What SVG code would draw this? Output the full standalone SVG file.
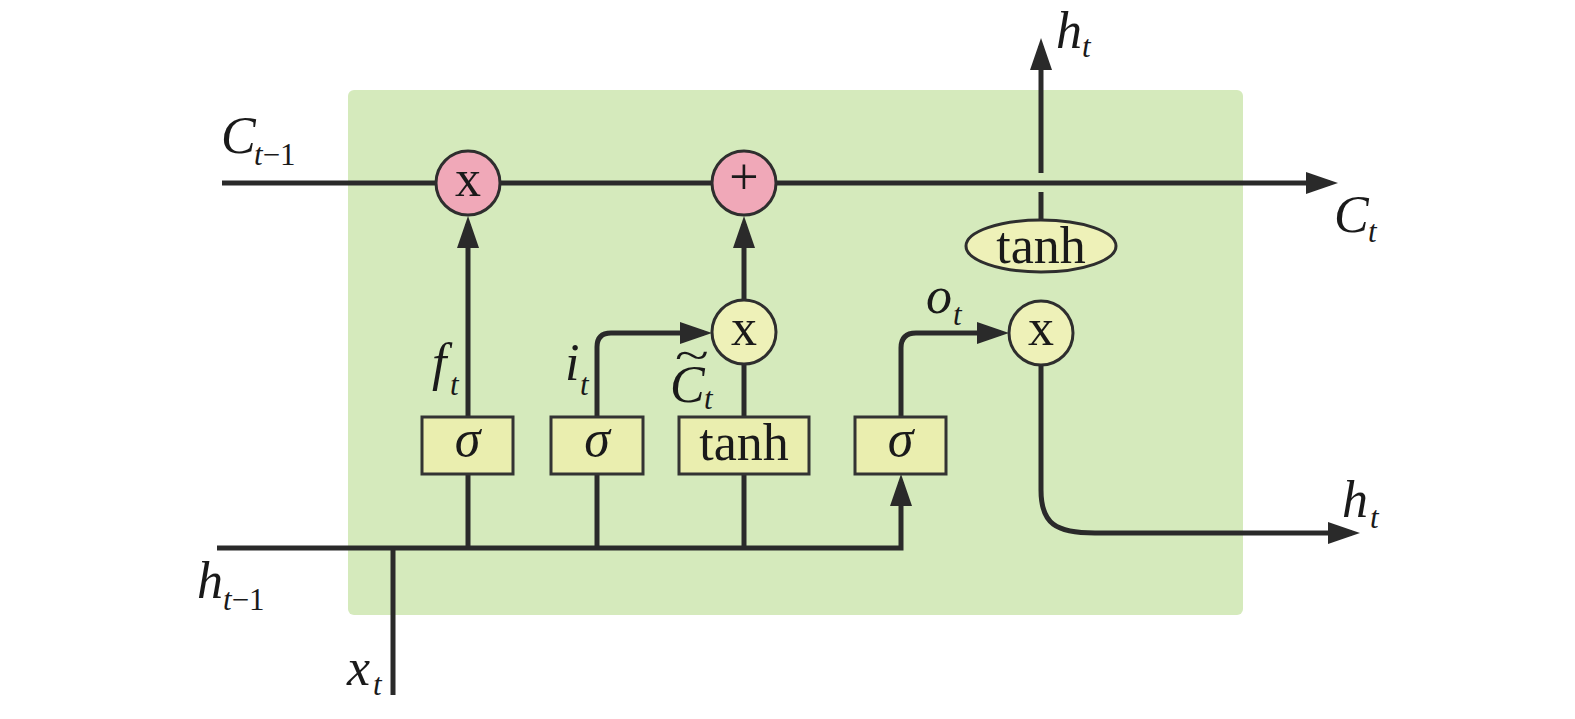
<svg xmlns="http://www.w3.org/2000/svg" width="1575" height="719" viewBox="0 0 1575 719">
<style>
.ln{fill:none;stroke:#2a2a2a;stroke-width:5}
.arr{marker-end:url(#ah)}
.pink{fill:#f0a8b8;stroke:#2e2e2e;stroke-width:3}
.yel{fill:#eef1b8;stroke:#2e2e2e;stroke-width:3}
.box{fill:#eaeeaf;stroke:#333;stroke-width:3}
.t{font-family:"Liberation Serif","Times New Roman",serif;fill:#1a1a1a}
.it{font-style:italic}
.op{font-size:52px;text-anchor:middle}
.lab{font-size:52px}
.sub{font-size:31px}
</style>
<defs>
<marker id="ah" markerUnits="userSpaceOnUse" markerWidth="32" markerHeight="22" viewBox="0 0 32 22" refX="24" refY="11" orient="auto">
<path d="M0,0 L32,11 L0,22 Z" fill="#2a2a2a"/>
</marker>
</defs>
<rect id="cell" x="348" y="90" width="895" height="525" rx="6" fill="#d5eabc"/>
<g id="connectors">
<path class="ln arr" d="M222,183 H1330"/>
<path class="ln arr" d="M468,417 V224"/>
<path class="ln arr" d="M744,364 V224"/>
<path class="ln" d="M744,417 V364"/>
<path class="ln arr" d="M597,417 V347 Q597,333 611,333 H704"/>
<path class="ln arr" d="M901,417 V348 Q901,333 916,333 H1001"/>
<path class="ln arr" d="M217,548 H901 V482"/>
<path class="ln" d="M468,548 V474"/>
<path class="ln" d="M597,548 V474"/>
<path class="ln" d="M744,548 V474"/>
<path class="ln" d="M393,695 V548"/>
<path class="ln arr" d="M1041,365 V490 C1041,524 1056,533 1095,533 H1352"/>
<path class="ln" d="M1041,221 V192"/>
<path class="ln arr" d="M1041,173 V46"/>
</g>
<g id="forget-mult"><circle class="pink" cx="468" cy="183" r="32"/><text class="t op" x="468" y="196">x</text></g>
<g id="cell-add"><circle class="pink" cx="744" cy="183" r="32"/><text class="t op" x="744" y="194">+</text></g>
<g id="input-mult"><circle class="yel" cx="744" cy="332" r="32"/><text class="t op" x="744" y="345">x</text></g>
<g id="output-mult"><circle class="yel" cx="1041" cy="333" r="32"/><text class="t op" x="1041" y="345">x</text></g>
<g id="tanh-out"><ellipse class="yel" cx="1041" cy="246" rx="75" ry="26"/><text class="t op" x="1041" y="263">tanh</text></g>
<g id="forget-gate"><rect class="box" x="422" y="417" width="91" height="57"/><text class="t op it" x="467.5" y="456">σ</text></g>
<g id="input-gate"><rect class="box" x="551" y="417" width="92" height="57"/><text class="t op it" x="597" y="456">σ</text></g>
<g id="cand-gate"><rect class="box" x="679" y="417" width="130" height="57"/><text class="t op" x="744" y="460">tanh</text></g>
<g id="output-gate"><rect class="box" x="855" y="417" width="91" height="57"/><text class="t op it" x="900.5" y="456">σ</text></g>
<g id="labels">
<text class="t lab it" x="221" y="153">C</text><text class="t sub" x="254" y="165"><tspan class="it">t</tspan>−1</text>
<text class="t lab it" x="197" y="598">h</text><text class="t sub" x="223" y="610"><tspan class="it">t</tspan>−1</text>
<text class="t lab it" x="347" y="685">x</text><text class="t sub it" x="373" y="695">t</text>
<text class="t lab it" x="1056" y="48">h</text><text class="t sub it" x="1082" y="57">t</text>
<text class="t lab it" x="1334" y="232">C</text><text class="t sub it" x="1368" y="242">t</text>
<text class="t lab it" x="1342" y="517">h</text><text class="t sub it" x="1370" y="528">t</text>
<text class="t lab it" x="432" y="380">f</text><text class="t sub it" x="450" y="395">t</text>
<text class="t lab it" x="565" y="380">i</text><text class="t sub it" x="580" y="395">t</text>
<text class="t lab it" x="670" y="402">C</text><text class="t sub it" x="704" y="409">t</text>
<text class="t" transform="translate(675,369) scale(1.3,0.9)" style="font-size:48px">~</text>
<text class="t lab it" x="926" y="313">o</text><text class="t sub it" x="953" y="325">t</text>
</g>
</svg>
